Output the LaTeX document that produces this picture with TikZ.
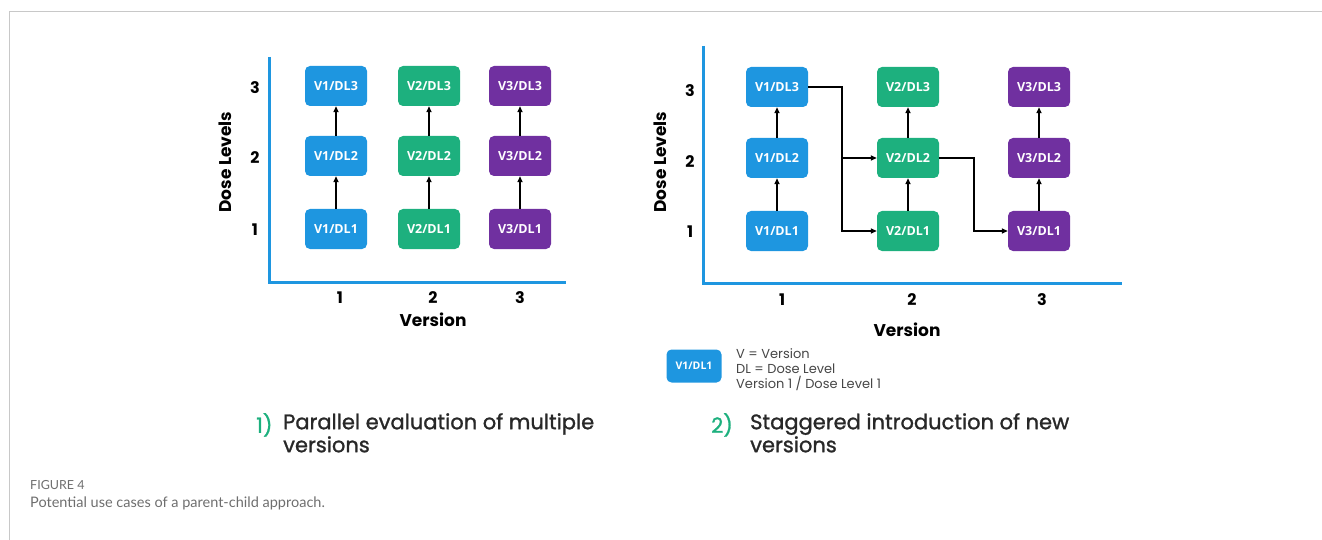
\documentclass[tikz,border=0pt]{standalone}
\usepackage{fontspec}
\setmainfont{Poppins}
\newfontfamily\boxfont{Open Sans}
\newfontfamily\capfont{Lato}
\newfontfamily\headfont[FakeBold=1.2]{Poppins}
\usetikzlibrary{arrows.meta}
\definecolor{vblue}{RGB}{30,150,224}
\definecolor{vgreen}{RGB}{29,176,126}
\definecolor{vpurple}{RGB}{112,48,160}
\definecolor{framegray}{RGB}{200,200,200}
\definecolor{textgray}{RGB}{70,70,70}
\definecolor{capgray}{RGB}{110,110,110}
\definecolor{headdark}{RGB}{40,40,40}

\begin{document}
\begin{tikzpicture}[x=1pt,y=-1pt,
    vbox/.style={rounded corners=5pt, minimum width=62pt, minimum height=40pt, inner sep=0pt,
      text=white, font=\boxfont\bfseries\fontsize{12.5}{14}\selectfont},
    link/.style={-{Triangle[length=6pt,width=5pt]}, line width=1.5pt},
    axis/.style={vblue, line width=3pt},
    ticklab/.style={font=\bfseries\fontsize{16}{18}\selectfont},
    axlab/.style={font=\bfseries\fontsize{17}{20}\selectfont},
    headlab/.style={anchor=north west, align=left, inner sep=0pt, font=\headfont\fontsize{21}{23}\selectfont}]

    \useasboundingbox (0,0) rectangle (1322,540);

    % frame
    \draw[framegray, line width=1.2pt] (9.5,540) -- (9.5,11.5) -- (1322,11.5);

    % Left panel: parallel versions
    \draw[axis] (269,57) -- (269,282) -- (566,282);
    \node[vbox, fill=vblue] (a13) at (336,86) {V1/DL3};
    \node[vbox, fill=vblue] (a12) at (336,156) {V1/DL2};
    \node[vbox, fill=vblue] (a11) at (336,229) {V1/DL1};
    \node[vbox, fill=vgreen] (a23) at (429,86) {V2/DL3};
    \node[vbox, fill=vgreen] (a22) at (429,156) {V2/DL2};
    \node[vbox, fill=vgreen] (a21) at (429,229) {V2/DL1};
    \node[vbox, fill=vpurple] (a33) at (520,86) {V3/DL3};
    \node[vbox, fill=vpurple] (a32) at (520,156) {V3/DL2};
    \node[vbox, fill=vpurple] (a31) at (520,229) {V3/DL1};
    \draw[link] (a11) -- (a12);
    \draw[link] (a12) -- (a13);
    \draw[link] (a21) -- (a22);
    \draw[link] (a22) -- (a23);
    \draw[link] (a31) -- (a32);
    \draw[link] (a32) -- (a33);
    \node[ticklab] (ay3) at (255,88) {3};
    \node[ticklab] (ay2) at (255,158) {2};
    \node[ticklab] (ay1) at (255,230) {1};
    \node[ticklab] (ax1) at (340,298) {1};
    \node[ticklab] (ax2) at (433,298) {2};
    \node[ticklab] (ax3) at (520,298) {3};
    \node[axlab, rotate=90] (adose) at (225,162) {Dose Levels};
    \node[axlab] (aver) at (433,320) {Version};

    % Right panel: staggered versions
    \draw[axis] (703,46) -- (703,283) -- (1122,283);
    \node[vbox, fill=vblue] (b13) at (777,87) {V1/DL3};
    \node[vbox, fill=vblue] (b12) at (777,158) {V1/DL2};
    \node[vbox, fill=vblue] (b11) at (777,231) {V1/DL1};
    \node[vbox, fill=vgreen] (b23) at (908,87) {V2/DL3};
    \node[vbox, fill=vgreen] (b22) at (908,158) {V2/DL2};
    \node[vbox, fill=vgreen] (b21) at (908,231) {V2/DL1};
    \node[vbox, fill=vpurple] (b33) at (1039,87) {V3/DL3};
    \node[vbox, fill=vpurple] (b32) at (1039,158) {V3/DL2};
    \node[vbox, fill=vpurple] (b31) at (1039,231) {V3/DL1};
    \draw[link] (b11) -- (b12);
    \draw[link] (b12) -- (b13);
    \draw[link] (b21) -- (b22);
    \draw[link] (b22) -- (b23);
    \draw[link] (b31) -- (b32);
    \draw[link] (b32) -- (b33);
    \coordinate (split1) at (842,87);
    \coordinate (split2) at (974,158);
    \draw[link] (b13.east) -- (split1) |- (b21.west);
    \draw[link] (split1 |- b22.west) -- (b22.west);
    \draw[link] (b22.east) -- (split2) |- (b31.west);
    \node[ticklab] (by3) at (690,91) {3};
    \node[ticklab] (by2) at (690,162) {2};
    \node[ticklab] (by1) at (690,232) {1};
    \node[ticklab] (bx1) at (782,300) {1};
    \node[ticklab] (bx2) at (912,300) {2};
    \node[ticklab] (bx3) at (1042,300) {3};
    \node[axlab, rotate=90] (bdose) at (660,162) {Dose Levels};
    \node[axlab] (bver) at (907,330) {Version};

    % legend
    \node[vbox, fill=vblue, minimum width=55pt, minimum height=33pt,
      font=\boxfont\bfseries\fontsize{10.5}{12}\selectfont] (key) at (694,366) {V1/DL1};
    \node[anchor=north west, align=left, inner sep=0pt, text=textgray,
      font=\fontsize{13}{15}\selectfont] (keytext) at (736,348)
      {V = Version\\DL = Dose Level\\Version 1 / Dose Level 1};

    % headings
    \node[headlab, text=vgreen] (num1) at (256,413) {1)};
    \node[headlab, text=headdark] (head1) at (283,413) {Parallel evaluation of multiple\\versions};
    \node[headlab, text=vgreen] (num2) at (711,413) {2)};
    \node[headlab, text=headdark] (head2) at (750,413) {Staggered introduction of new\\versions};

    % caption
    \node[anchor=west, inner sep=0pt, text=capgray, font=\capfont\fontsize{12.5}{14}\selectfont] (figno) at (30,485) {FIGURE 4};
    \node[anchor=west, inner sep=0pt, text=capgray, font=\capfont\fontsize{14.5}{17}\selectfont] (figcap) at (30,503)
      {Potential use cases of a parent-child approach.};

\end{tikzpicture}
\end{document}
